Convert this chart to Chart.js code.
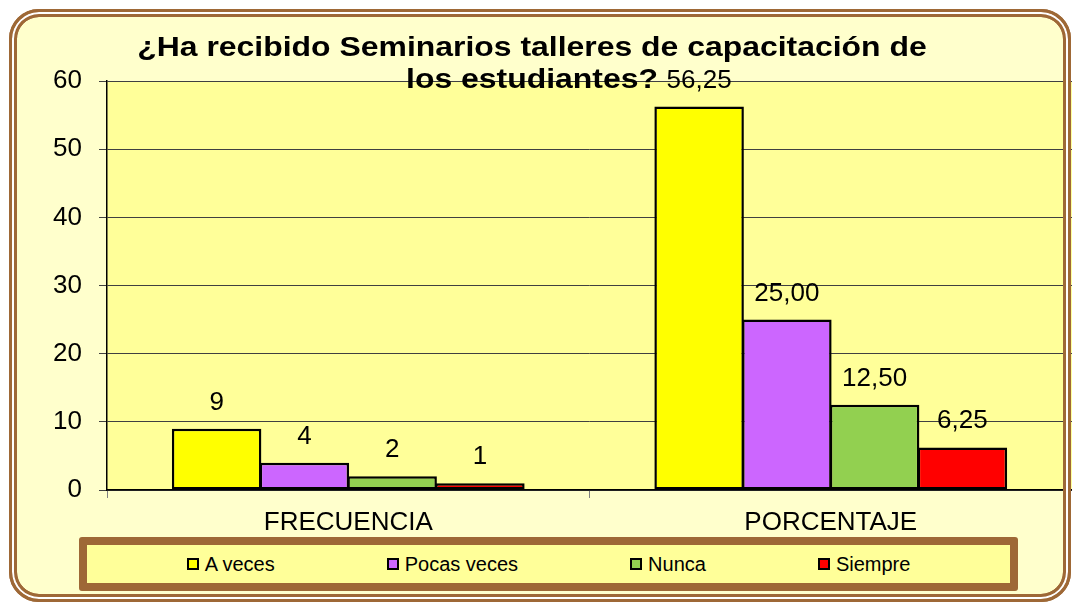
<!DOCTYPE html>
<html>
<head>
<meta charset="utf-8">
<script src="https://cdn.jsdelivr.net/npm/chart.js@4.4.1/dist/chart.umd.min.js"></script>
<style>
  body { margin: 0; background: #fff; }
  #wrap { position: relative; width: 1072px; height: 603px; overflow: hidden; font-family: "Liberation Sans", Arial, sans-serif; }
  .marco { position: absolute; left: 9px; top: 9px; width: 1062px; height: 593px; box-sizing: border-box;
           border: 3px solid #9e6836; border-radius: 30px;
           box-shadow: inset 0 0 0 2px #fff, inset 0 0 0 5px #9e6836; }
  #fondo { background: #ffffcc; }
  #frente { background: transparent; pointer-events: none; }
  #grafico { position: absolute; left: 0; top: 0; }
  #titulo { position: absolute; left: 132px; top: 31px; width: 800px; text-align: center;
            font-weight: bold; font-size: 28px; line-height: 32px; color: #000;
            transform: scaleX(1.14); transform-origin: 400px 0; }
  #leyenda { position: absolute; left: 79px; top: 537px; width: 939px; height: 54px; box-sizing: border-box;
             border: 8px solid #9e6836; border-radius: 3px; background: #ffff99;
             display: flex; justify-content: center; align-items: center; gap: 112px; font-size: 20px; }
  .item { display: flex; align-items: center; white-space: nowrap; }
  .caja { width: 8px; height: 8px; border: 2px solid #000; margin-right: 6px; }
</style>
</head>
<body>
<div id="wrap">
  <div class="marco" id="fondo"></div>
  <canvas id="grafico" width="1072" height="603"></canvas>
  <div id="titulo">¿Ha recibido Seminarios talleres de capacitación de<br>los estudiantes?</div>
  <div id="leyenda"></div>
  <div class="marco" id="frente"></div>
</div>
<script>
const categorias = ['FRECUENCIA', 'PORCENTAJE'];
const series = ['A veces', 'Pocas veces', 'Nunca', 'Siempre'];
const aVeces = [9, 56.25];
const pocasVeces = [4, 25];
const nunca = [2, 12.5];
const siempre = [1, 6.25];
const colores = ['#ffff00', '#cc66ff', '#92d050', '#ff0000'];
const ejeY = { min: 0, max: 60, paso: 10 };

const valores = [aVeces, pocasVeces, nunca, siempre];
const fuente = '"Liberation Sans", Arial, sans-serif';
Chart.defaults.font.family = fuente;
Chart.defaults.color = '#000';

function formato(v, i) {
    // frecuencia en enteros, porcentaje con dos decimales y coma
    return i === 0 ? String(v) : v.toFixed(2).replace('.', ',');
}

const fondoArea = {
    id: 'fondoArea',
    beforeDraw(chart) {
        const a = chart.chartArea, ctx = chart.ctx;
        ctx.save();
        ctx.fillStyle = '#ffff99';
        ctx.fillRect(a.left, a.top, a.right - a.left, a.bottom - a.top);
        ctx.restore();
    }
};

const etiquetas = {
    id: 'etiquetas',
    afterDatasetsDraw(chart) {
        const ctx = chart.ctx;
        ctx.save();
        ctx.font = '26px ' + fuente;
        ctx.fillStyle = '#000';
        ctx.textAlign = 'center';
        ctx.textBaseline = 'alphabetic';
        chart.data.datasets.forEach((ds, d) => {
            chart.getDatasetMeta(d).data.forEach((bar, i) => {
                ctx.fillText(formato(ds.data[i], i), bar.x, bar.y - 19);
            });
        });
        ctx.restore();
    }
};

new Chart(document.getElementById('grafico'), {
    type: 'bar',
    data: {
        labels: categorias,
        datasets: series.map((s, k) => ({
            label: s,
            data: valores[k],
            backgroundColor: colores[k],
            borderColor: '#000',
            borderWidth: 2.5,
            borderSkipped: false,
            barPercentage: 1.02,
            categoryPercentage: 0.7275
        }))
    },
    options: {
        responsive: false,
        animation: false,
        layout: { padding: { top: 81, bottom: 73, left: 0, right: 0 } },
        plugins: { legend: { display: false }, tooltip: { enabled: false } },
        scales: {
            x: {
                afterFit: s => { s.height = 40; },
                grid: { drawOnChartArea: false, tickLength: 8, color: '#808080' },
                border: { color: '#000', width: 1.5 },
                ticks: { padding: 9, font: { size: 26 } }
            },
            y: {
                min: ejeY.min,
                max: ejeY.max,
                afterFit: s => { s.width = 107; },
                grid: { color: '#404040', tickLength: 8 },
                border: { color: '#000', width: 1.5 },
                ticks: { stepSize: ejeY.paso, padding: 17, font: { size: 26 } }
            }
        }
    },
    plugins: [fondoArea, etiquetas]
});

const leyenda = document.getElementById('leyenda');
series.forEach((s, k) => {
    const item = document.createElement('div');
    item.className = 'item';
    const caja = document.createElement('span');
    caja.className = 'caja';
    caja.style.background = colores[k];
    item.appendChild(caja);
    item.appendChild(document.createTextNode(s));
    leyenda.appendChild(item);
});
</script>
</body>
</html>
